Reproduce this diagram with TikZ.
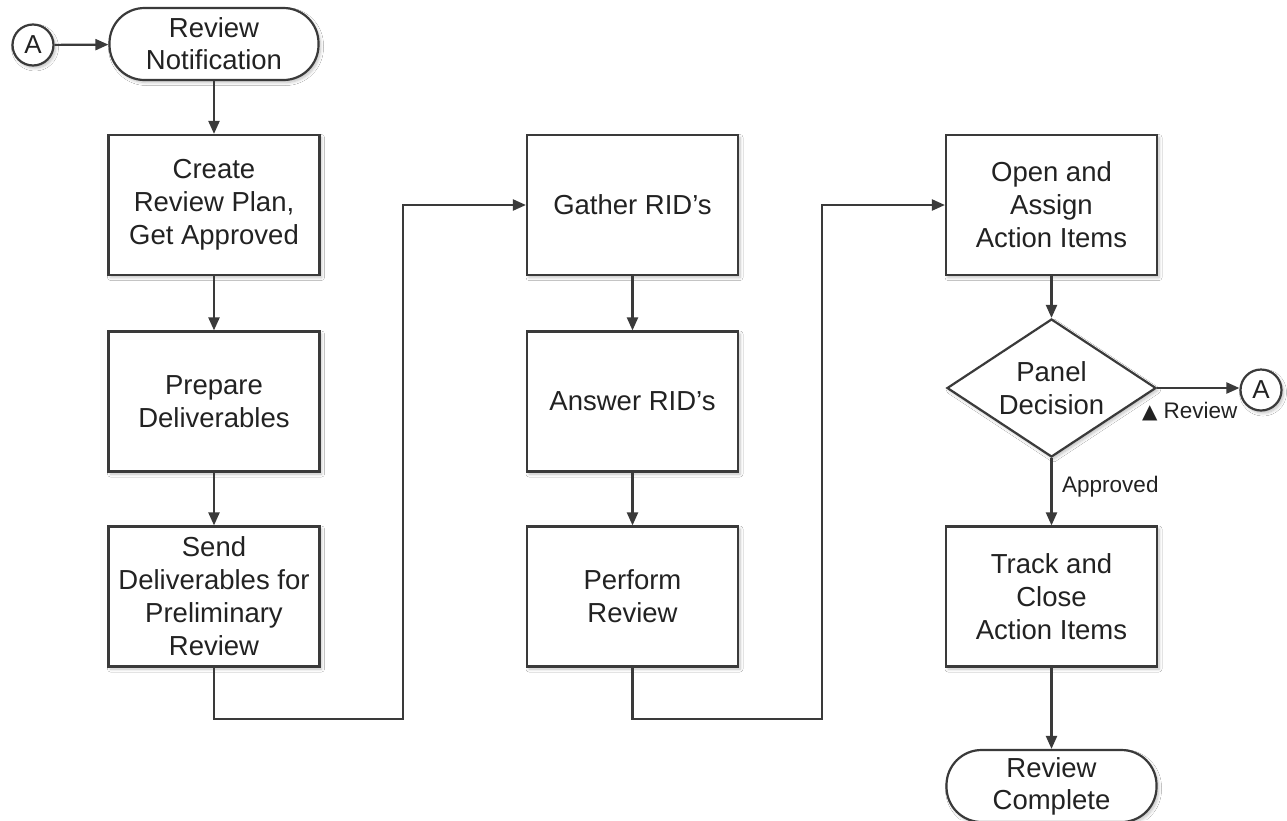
\documentclass[tikz,border=0pt]{standalone}
\usepackage{fontspec}
\setmainfont{Liberation Sans}
\newfontfamily\dejavu{DejaVu Sans}
\usetikzlibrary{shapes.geometric,arrows.meta,shadows.blur}
\definecolor{linec}{HTML}{3A3A3A}
\definecolor{textc}{HTML}{222222}
\tikzset{
  myshadow/.style={blur shadow={shadow xshift=2pt,shadow yshift=-2.5pt,shadow blur steps=6,shadow opacity=25,shadow blur radius=3pt}},
  procbox/.style={draw=linec,line width=2.2pt,fill=white,minimum width=211pt,minimum height=140pt,inner sep=0pt,align=center,font=\fontsize{27.5}{33}\selectfont,text=textc,myshadow},
  termbox/.style={draw=linec,line width=2.2pt,fill=white,rounded corners=35pt,minimum width=209pt,minimum height=72pt,inner sep=0pt,align=center,font=\fontsize{27.5}{32}\selectfont,text=textc,myshadow},
  decbox/.style={diamond,draw=linec,line width=2.2pt,fill=white,minimum width=209pt,minimum height=138pt,inner sep=0pt,myshadow},
  dectext/.style={align=center,font=\fontsize{27.5}{33}\selectfont,text=textc,inner sep=0pt},
  conn/.style={circle,draw=linec,line width=2.2pt,fill=white,minimum size=41pt,inner sep=0pt,font=\fontsize{26}{26}\selectfont,text=textc,myshadow},
  flow/.style={draw=linec,line width=2.2pt,-{Triangle[length=13pt,width=11pt]}},
  lbl/.style={font=\fontsize{22.5}{22.5}\selectfont,text=textc,inner sep=0pt}
}
\begin{document}
\begin{tikzpicture}[x=1pt,y=-1pt]
\useasboundingbox[fill=white] (0,0) rectangle (1287,820);
% column 1
\node[conn] (aL) at (33,45) {A};
\node[termbox] (rn) at (214,44) {Review\\Notification};
\node[procbox] (b1) at (214,205) {Create\\Review Plan,\\Get Approved};
\node[procbox] (b2) at (214,401.5) {Prepare\\Deliverables};
\node[procbox] (b3) at (214,596.5) {Send\\Deliverables for\\Preliminary\\Review};
% column 2
\node[procbox] (g) at (632.5,205) {Gather RID’s};
\node[procbox] (an) at (632.5,401.5) {Answer RID’s};
\node[procbox] (pr) at (632.5,596.5) {Perform\\Review};
% column 3
\node[procbox] (op) at (1051.5,205) {Open and\\Assign\\Action Items};
\node[decbox,label={[dectext]center:Panel\\Decision}] (d) at (1051.5,388) {};
\node[conn] (aR) at (1261,390) {A};
\node[procbox] (tr) at (1051.5,596.5) {Track and\\Close\\Action Items};
\node[termbox,minimum width=210pt] (rc) at (1051.5,786) {Review\\Complete};
% coordinates
\coordinate (c1) at (403,719);
\coordinate (c2) at (822,719);
% connectors
\draw[flow] (aL) -- (rn);
\draw[flow] (rn) -- (b1);
\draw[flow] (b1) -- (b2);
\draw[flow] (b2) -- (b3);
\draw[flow] (b3.south) |- (c1) |- (g.west);
\draw[flow] (g) -- (an);
\draw[flow] (an) -- (pr);
\draw[flow] (pr.south) |- (c2) |- (op.west);
\draw[flow] (op) -- (d);
\draw[flow] (d.east) -- (aR.west |- d.east);
\draw[flow] (d) -- (tr);
\draw[flow] (tr) -- (rc);
% labels
\node[lbl,anchor=west] (lr) at (1142,412) {{\dejavu\fontsize{20}{20}\selectfont ▲}\hspace{6pt}Review};
\node[lbl,anchor=west] (la) at (1062,487) {Approved};
\end{tikzpicture}
\end{document}
